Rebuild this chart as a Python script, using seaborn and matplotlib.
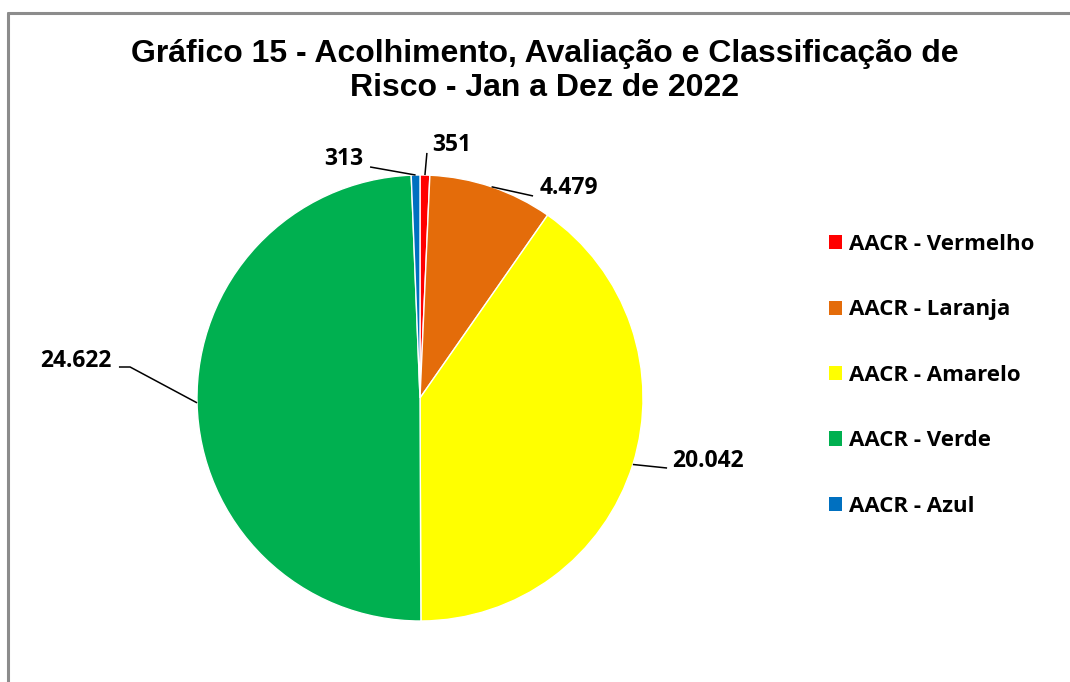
import numpy as np
import matplotlib
matplotlib.use("Agg")
import matplotlib.pyplot as plt
import seaborn as sns
from matplotlib.lines import Line2D

sns.set_theme(style="white")
plt.rcParams['font.family'] = ['Liberation Sans', 'DejaVu Sans']
plt.rcParams['text.color'] = 'black'

categories = ["AACR - Vermelho", "AACR - Laranja", "AACR - Amarelo", "AACR - Verde", "AACR - Azul"]
values = [351, 4479, 20042, 24622, 313]
value_labels = ["351", "4.479", "20.042", "24.622", "313"]
colors = ["#FF0000", "#E46C0A", "#FFFF00", "#00B050", "#0070C0"]

W, H = 1070, 682
fig = plt.figure(figsize=(W / 100, H / 100), dpi=100)

# figure border (top and left visible)
fig.add_artist(Line2D([7.5 / W, 1], [1 - 12.5 / H, 1 - 12.5 / H], color="#8C8C8C", lw=2.2,
                      transform=fig.transFigure))
fig.add_artist(Line2D([7.5 / W, 7.5 / W], [0, 1 - 12.5 / H], color="#8C8C8C", lw=2.2,
                      transform=fig.transFigure))

cx, cy, r = 420, 398, 223
ax = fig.add_axes([(cx - r) / W, (H - cy - r) / H, 2 * r / W, 2 * r / H])
wedges, _ = ax.pie(values, colors=colors, startangle=90, counterclock=False,
                   radius=1.0, wedgeprops=dict(edgecolor="white", linewidth=1.0))
ax.set_xlim(-1, 1)
ax.set_ylim(-1, 1)
ax.set_aspect("equal")
ax.axis("off")

lab_font = ["Open Sans", "DejaVu Sans"]

# label positions (elbow points, text anchor, alignment) in pie data units
label_specs = {
    "351": dict(elbow=[(0.031, 1.099)], text=(0.054, 1.135), ha="left"),
    "4.479": dict(elbow=[(0.507, 0.906)], text=(0.535, 0.942), ha="left"),
    "20.042": dict(elbow=[(1.108, -0.314)], text=(1.13, -0.283), ha="left"),
    "24.622": dict(elbow=[(-1.300, 0.139), (-1.350, 0.139)], text=(-1.381, 0.166), ha="right"),
    "313": dict(elbow=[(-0.224, 1.036)], text=(-0.256, 1.072), ha="right"),
}
for w, lab in zip(wedges, value_labels):
    ang = np.deg2rad((w.theta1 + w.theta2) / 2)
    x0, y0 = np.cos(ang), np.sin(ang)
    spec = label_specs[lab]
    pts = [(x0, y0)] + spec["elbow"]
    ax.plot([p[0] for p in pts], [p[1] for p in pts], color="black", lw=1.1,
            clip_on=False, solid_capstyle="butt")
    ax.text(spec["text"][0], spec["text"][1], lab, ha=spec["ha"], va="center",
            fontsize=16.5, fontweight="bold", family=lab_font, color="black", clip_on=False)

fig.text(545 / W, 1 - 71 / H,
         "Gráfico 15 - Acolhimento, Avaliação e Classificação de\nRisco - Jan a Dez de 2022",
         ha="center", va="center", fontsize=23, fontweight="bold", linespacing=1.2, color="black")

# legend
handles = [plt.Rectangle((0, 0), 1, 1, facecolor=c, edgecolor="none") for c in colors]
leg = fig.legend(handles, categories, loc="upper left", bbox_to_anchor=(809 / W, 1 - 214 / H),
                 frameon=False, handlelength=0.6, handleheight=0.6, handletextpad=0.3,
                 labelspacing=2.0, prop=dict(family=lab_font, weight="bold", size=16))
for t in leg.get_texts():
    t.set_color("black")

fig.savefig("out.png", dpi=100)
